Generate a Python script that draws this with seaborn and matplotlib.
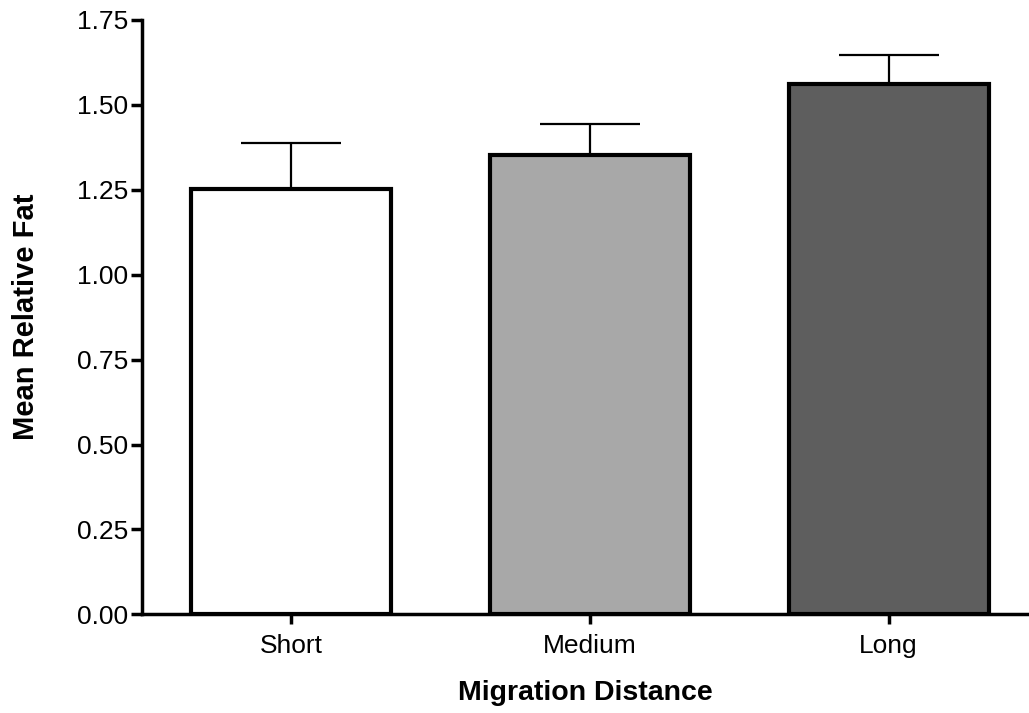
import matplotlib
matplotlib.use("Agg")
import matplotlib.pyplot as plt
import seaborn as sns
import pandas as pd

categories = ["Short", "Medium", "Long"]
means = [1.252, 1.353, 1.561]
errors = [0.135, 0.092, 0.087]
colors = ["#ffffff", "#a8a8a8", "#5e5e5e"]
yticks = [0.00, 0.25, 0.50, 0.75, 1.00, 1.25, 1.50, 1.75]

sns.set_style("ticks", {"axes.edgecolor": "black", "text.color": "black",
                        "xtick.color": "black", "ytick.color": "black",
                        "axes.labelcolor": "black"})
plt.rcParams["font.family"] = ["Liberation Sans", "DejaVu Sans"]

fig = plt.figure(figsize=(10.29, 7.13), dpi=100)
ax = fig.add_axes([0.1377, 0.1384, 0.8623, 0.8336])

df = pd.DataFrame({"cat": categories, "val": means})
sns.barplot(data=df, x="cat", y="val", hue="cat", palette=colors, legend=False,
            width=0.67, edgecolor="black", linewidth=3, ax=ax, zorder=3, errorbar=None)

ax.errorbar(range(len(categories)), means, yerr=[[0] * len(errors), errors],
            fmt="none", ecolor="black", elinewidth=1.6, capsize=36, capthick=1.6, zorder=2)

ax.set_ylim(0, 1.75)
ax.set_xlim(-0.5, 2.47)
ax.set_yticks(yticks)
ax.set_yticklabels([f"{t:.2f}" for t in yticks])
ax.tick_params(axis="y", length=8, width=2.5, labelsize=19, pad=2)
ax.tick_params(axis="x", length=7, width=2.5, labelsize=19, pad=7)
for s in ["top", "right"]:
    ax.spines[s].set_visible(False)
for s in ["left", "bottom"]:
    ax.spines[s].set_linewidth(2.5)

ax.set_xlabel("Migration Distance", fontsize=20.5, fontweight="bold", labelpad=16)
ax.set_ylabel("Mean Relative Fat", fontsize=21, fontweight="bold", labelpad=26)

fig.savefig("out.png", dpi=100)
